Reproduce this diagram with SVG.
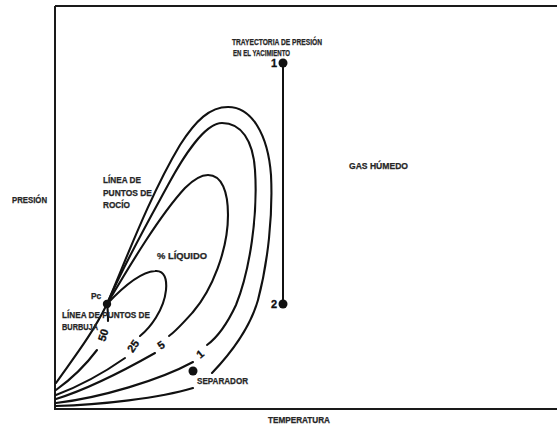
<svg xmlns="http://www.w3.org/2000/svg" width="557" height="428" viewBox="0 0 557 428">
  <style>
    .frame { fill: none; stroke: #1a1a1a; stroke-width: 2; }
    .curve { fill: none; stroke: #111; stroke-width: 2.1; stroke-linecap: round; stroke-linejoin: round; }
    .path-line { fill: none; stroke: #111; stroke-width: 2; }
    .dot { fill: #111; }
    .lbl { font-family: "Liberation Sans", Arial, sans-serif; font-weight: bold; font-size: 8.4px; fill: #262626; stroke: #262626; stroke-width: 0.25; }
    .num { font-family: "Liberation Sans", Arial, sans-serif; font-weight: bold; font-size: 11px; fill: #111; stroke: #111; stroke-width: 0.3; }
    .iso { font-family: "Liberation Sans", Arial, sans-serif; font-weight: bold; font-size: 11px; fill: #111; stroke: #111; stroke-width: 0.3; text-anchor: middle; dominant-baseline: central; }
  </style>
  <rect width="557" height="428" fill="#ffffff"/>

  <!-- axes frame: left, top and bottom edges -->
  <g id="frame">
    <path class="frame" d="M55,6 L557,6 M55,6 L55,409 L557,409"/>
  </g>

  <!-- phase envelope and quality lines -->
  <g id="connectors">
    <!-- bubble point line: origin to critical point -->
    <path id="bubble-line" class="curve" d="M56,383 C72,360 92,335 107,304"/>
    <!-- 50 % line -->
    <path id="q50" class="curve" d="M107,304 C108,310 108,316 108,321 M97,350 C85,366 70,380 56,390"/>
    <!-- 25 % line (small loop) -->
    <path id="q25" class="curve" d="M107,304 C122,288 140,272 155,271 C165,270 167,280 166,290 C164,310 150,328 140,336 M125,358 C105,372 80,386 56,395"/>
    <!-- 5 % line -->
    <path id="q5" class="curve" d="M107,304 C130,265 160,215 185,188 C195,178 202,175 208,175 C222,175 228,192 228,215 C228,250 212,290 193,312 C184,322 176,331 169,336 M155,353 C125,370 85,390 56,399"/>
    <!-- 1 % line -->
    <path id="q1" class="curve" d="M107,304 C125,262 150,218 168,185 C183,157 205,123 222,123 C241,123 253,140 255,170 C258,215 250,270 236,305 C228,322 218,337 207,345 M193,362 C160,380 100,398 56,403"/>
    <!-- dew point line (outer envelope) -->
    <path id="dew-line" class="curve" d="M107,304 C125,262 150,195 180,145 C196,120 210,107 228,107 C252,107 268,135 271,175 C273,215 268,262 258,300 C250,328 232,352 212,373 M193,388 C160,398 100,405 56,406"/>
    <!-- isothermal reservoir path 1 to 2 -->
    <path id="reservoir-path" class="path-line" d="M283,63 L283,304"/>
  </g>

  <!-- points -->
  <g id="point-1">
    <circle class="dot" cx="283" cy="63" r="4.5"/>
    <text class="num" x="271" y="67">1</text>
  </g>
  <g id="point-2">
    <circle class="dot" cx="283" cy="304" r="4.5"/>
    <text class="num" x="271" y="308">2</text>
  </g>
  <g id="critical-point">
    <circle class="dot" cx="107" cy="304" r="4.2"/>
    <text class="lbl" x="91" y="299" font-size="7">Pc</text>
  </g>
  <g id="separator">
    <circle class="dot" cx="193" cy="371" r="4.5"/>
    <text class="lbl" x="197" y="384" textLength="51" lengthAdjust="spacingAndGlyphs">SEPARADOR</text>
  </g>

  <!-- quality line values -->
  <g id="quality-values">
    <text class="iso" transform="translate(103,335) rotate(-72)">50</text>
    <text class="iso" transform="translate(133,346) rotate(-55)">25</text>
    <text class="iso" transform="translate(161,345) rotate(-35)">5</text>
    <text class="iso" transform="translate(200,354) rotate(-40)">1</text>
  </g>

  <!-- annotations -->
  <g id="labels">
    <text class="lbl" x="232" y="45" textLength="90" lengthAdjust="spacingAndGlyphs">TRAYECTORIA DE PRESIÓN</text>
    <text class="lbl" x="233" y="56" textLength="57" lengthAdjust="spacingAndGlyphs">EN EL YACIMIENTO</text>
    <text class="lbl" x="349" y="169" textLength="59" lengthAdjust="spacingAndGlyphs">GAS HÚMEDO</text>
    <text class="lbl" x="12" y="203" textLength="35" lengthAdjust="spacingAndGlyphs">PRESIÓN</text>
    <text class="lbl" x="268" y="423" textLength="62" lengthAdjust="spacingAndGlyphs">TEMPERATURA</text>
    <text class="lbl" x="157" y="259" textLength="50" lengthAdjust="spacingAndGlyphs">% LÍQUIDO</text>
    <text class="lbl" x="103" y="183" textLength="38" lengthAdjust="spacingAndGlyphs">LÍNEA DE</text>
    <text class="lbl" x="103" y="196" textLength="49" lengthAdjust="spacingAndGlyphs">PUNTOS DE</text>
    <text class="lbl" x="103" y="208" textLength="27" lengthAdjust="spacingAndGlyphs">ROCÍO</text>
    <text class="lbl" x="62" y="318" textLength="88" lengthAdjust="spacingAndGlyphs">LÍNEA DE PUNTOS DE</text>
    <text class="lbl" x="62" y="330" textLength="36" lengthAdjust="spacingAndGlyphs">BURBUJA</text>
  </g>
</svg>
